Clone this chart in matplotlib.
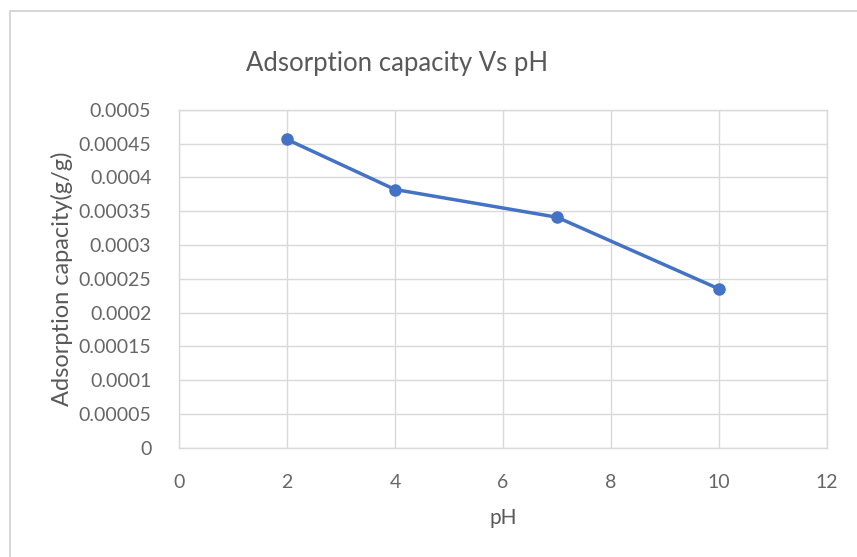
import numpy as np
import matplotlib.pyplot as plt
from matplotlib.patches import Rectangle

# pH values and measured adsorption capacity (g/g)
ph = [2, 4, 7, 10]
capacity = [0.000456, 0.000382, 0.000341, 0.000235]

x_ticks = [0, 2, 4, 6, 8, 10, 12]
y_ticks = [0, 0.00005, 0.0001, 0.00015, 0.0002, 0.00025, 0.0003, 0.00035, 0.0004, 0.00045, 0.0005]
y_tick_labels = ["0", "0.00005", "0.0001", "0.00015", "0.0002", "0.00025", "0.0003",
                 "0.00035", "0.0004", "0.00045", "0.0005"]

plt.rcParams['font.family'] = ['Lato', 'DejaVu Sans']
text_grey = '#595959'
grid_grey = '#d9d9d9'
blue = '#4472C4'

fig = plt.figure(figsize=(8.57, 5.57), dpi=100)
fig.patch.set_facecolor('white')

# chart border
fig.patches.append(Rectangle((0.012, -0.01), 0.99, 0.99, transform=fig.transFigure,
                             fill=False, edgecolor='#d0d0d0', linewidth=1.2))

ax = fig.add_axes([0.209, 0.196, 0.756, 0.607])
ax.plot(ph, capacity, color=blue, linewidth=2.5, marker='o', markersize=8,
        markerfacecolor=blue, markeredgecolor=blue, zorder=3)

ax.set_xlim(0, 12)
ax.set_ylim(0, 0.0005)
ax.set_xticks(x_ticks)
ax.set_xticklabels([str(t) for t in x_ticks])
ax.set_yticks(y_ticks)
ax.set_yticklabels(y_tick_labels)
ax.tick_params(length=0, labelsize=14, labelcolor='#666666')
ax.tick_params(axis='x', pad=19)
ax.tick_params(axis='y', pad=20)

ax.grid(True, color=grid_grey, linewidth=1)
ax.set_axisbelow(True)
for side in ax.spines.values():
    side.set_color(grid_grey)
    side.set_linewidth(1)

ax.set_xlabel('pH', fontsize=15, color=text_grey, labelpad=12)
ax.set_ylabel('Adsorption capacity(g/g)', fontsize=17, color=text_grey, labelpad=4)
fig.text(0.463, 0.886, 'Adsorption capacity Vs pH', fontsize=18.5, color=text_grey,
         ha='center', va='center')

fig.savefig('out.png', dpi=100)
